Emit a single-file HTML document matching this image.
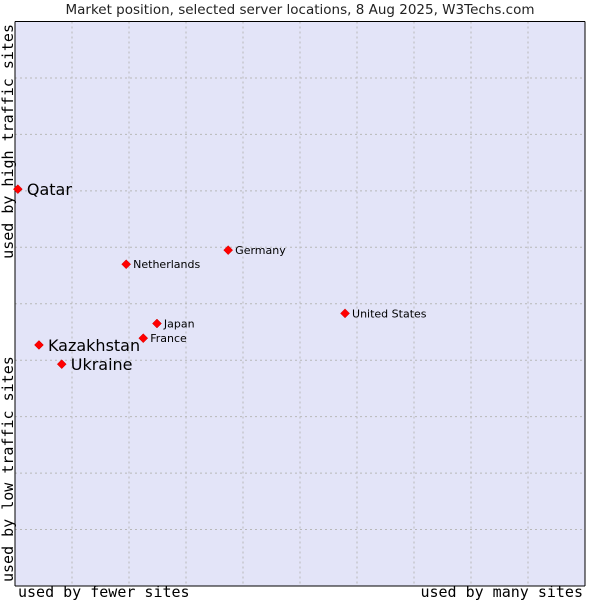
<!DOCTYPE html>
<html><head><meta charset="utf-8"><style>
body{margin:0;background:#fff;}
svg{display:block;}
</style></head><body>
<svg width="600" height="600" xmlns="http://www.w3.org/2000/svg">
<text x="300" y="14" text-anchor="middle" font-family="DejaVu Sans, Liberation Sans, sans-serif" font-size="13.5" fill="#222">Market position, selected server locations, 8 Aug 2025, W3Techs.com</text>
<rect x="15" y="21.5" width="570" height="564.5" fill="#e3e4f8" stroke="none"/>
<g id="grid"></g>
<line x1="15" y1="21.5" x2="585" y2="21.5" stroke="#000"/>
<line x1="15" y1="21.5" x2="15" y2="586" stroke="#000"/>
<line x1="585" y1="21.5" x2="585" y2="586" stroke="#000"/>
<line x1="15" y1="586" x2="585" y2="586" stroke="#000"/>
<g id="points"></g>
<text x="18" y="597" font-family="DejaVu Sans Mono, Liberation Mono, monospace" font-size="15" fill="#000">used by fewer sites</text>
<text x="583" y="597" text-anchor="end" font-family="DejaVu Sans Mono, Liberation Mono, monospace" font-size="15" fill="#000">used by many sites</text>
<text transform="translate(13,24) rotate(-90)" text-anchor="end" font-family="DejaVu Sans Mono, Liberation Mono, monospace" font-size="15" fill="#000">used by high traffic sites</text>
<text transform="translate(13,582) rotate(-90)" font-family="DejaVu Sans Mono, Liberation Mono, monospace" font-size="15" fill="#000">used by low traffic sites</text>
</svg>
<script>
const names=["Qatar","Netherlands","Germany","United States","Japan","France","Kazakhstan","Ukraine"];
const xValues=[0.05,1.95,3.74,5.79,2.49,2.25,0.42,0.82];
const yValues=[7.03,5.70,5.95,4.83,4.65,4.39,4.27,3.93];
const bigLabel=[true,false,false,false,false,false,true,true];
const ns="http://www.w3.org/2000/svg";
const X0=15,X1=585,Y0=586,Y1=21.5;
const sx=v=>X0+(X1-X0)*v/10, sy=v=>Y0-(Y0-Y1)*v/10;
const grid=document.getElementById('grid');
for(let i=1;i<10;i++){
  const v=document.createElementNS(ns,'line');
  v.setAttribute('x1',sx(i));v.setAttribute('x2',sx(i));v.setAttribute('y1',Y1);v.setAttribute('y2',Y0);
  v.setAttribute('stroke','#b8b8b8');v.setAttribute('stroke-dasharray','2,3');
  
  
  grid.appendChild(v);
  const h=document.createElementNS(ns,'line');
  h.setAttribute('y1',sy(i));h.setAttribute('y2',sy(i));h.setAttribute('x1',X0);h.setAttribute('x2',X1);
  h.setAttribute('stroke','#b8b8b8');h.setAttribute('stroke-dasharray','2,3');
  
  
  grid.appendChild(h);
}
const pts=document.getElementById('points');
names.forEach((n,i)=>{
  const x=sx(xValues[i]),y=sy(yValues[i]);
  const d=document.createElementNS(ns,'path');
  d.setAttribute('d',`M${x} ${y-4.5}L${x+4.5} ${y}L${x} ${y+4.5}L${x-4.5} ${y}Z`);
  d.setAttribute('fill','#ff0000');d.setAttribute('stroke','#cc0000');d.setAttribute('stroke-width','0.5');
  
  
  pts.appendChild(d);
  const t=document.createElementNS(ns,'text');
  t.setAttribute('x',x+(bigLabel[i]?9:7));
  t.setAttribute('y',y+(bigLabel[i]?6:4));
  t.setAttribute('font-family','DejaVu Sans, Liberation Sans, sans-serif');
  t.setAttribute('font-size',bigLabel[i]?'16':'11');
  t.setAttribute('fill','#000');
  t.textContent=n;
  
  
  pts.appendChild(t);
});
</script>
</body></html>
